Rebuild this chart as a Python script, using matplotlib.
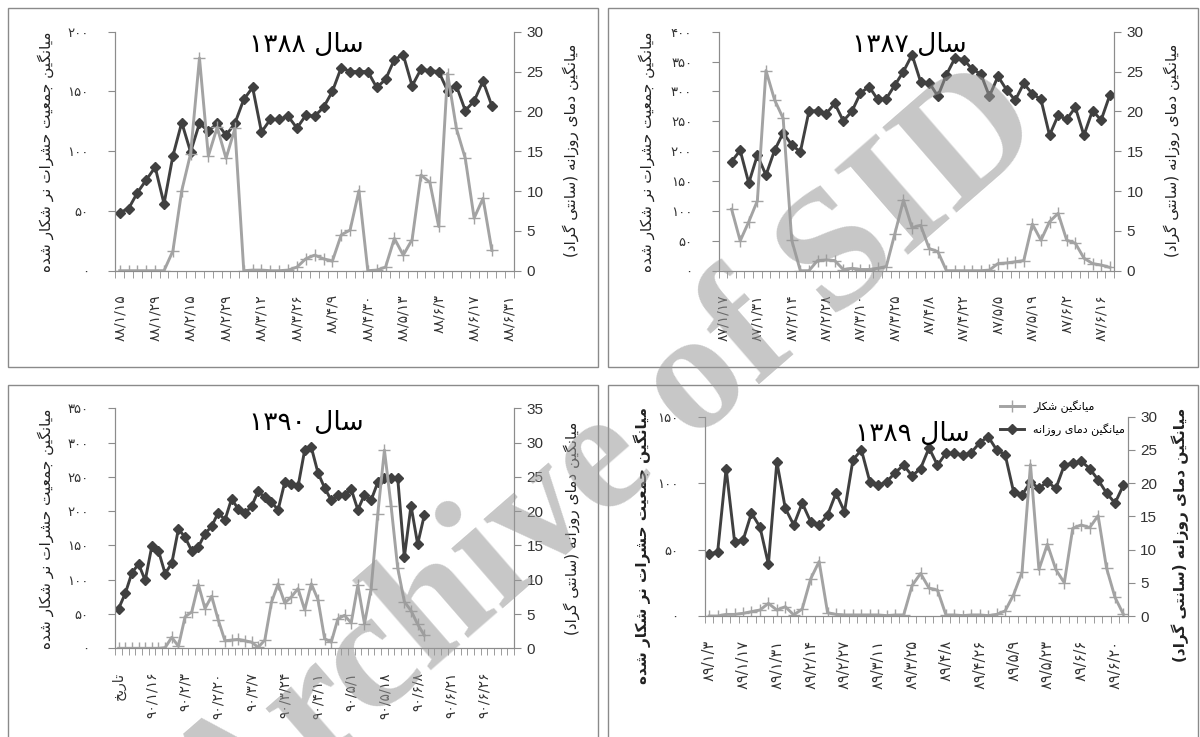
import re
import numpy as np
import matplotlib
matplotlib.use("Agg")
import matplotlib.pyplot as plt
from matplotlib.patches import Rectangle

plt.rcParams['font.family'] = ['DejaVu Sans']

# ---- data: 1387 (top right) ----
labels_87 = ['۸۷/۱/۱۷', '۸۷/۱/۳۱', '۸۷/۲/۱۴', '۸۷/۲/۲۸', '۸۷/۳/۱۰', '۸۷/۳/۲۵',
             '۸۷/۴/۸', '۸۷/۴/۲۲', '۸۷/۵/۵', '۸۷/۵/۱۹', '۸۷/۶/۲', '۸۷/۶/۱۶']
temp_87 = [13.7, 15.1, 11.0, 14.5, 12.0, 15.1, 17.3, 15.8, 14.9, 20.0,
           20.1, 19.7, 21.0, 18.8, 20.0, 22.3, 23.1, 21.5, 21.6, 23.3,
           25.0, 27.1, 23.7, 23.6, 21.9, 24.6, 26.7, 26.5, 25.3, 24.7,
           21.9, 24.4, 22.7, 21.4, 23.5, 22.2, 21.5, 17.0, 19.5, 19.0,
           20.5, 17.0, 20.1, 18.9, 22.0]
pest_87 = [103, 50, 82, 117, 335, 286, 255, 51, 0, 0,
           17, 18, 17, 2, 4, 2, 2, 4, 7, 62,
           118, 72, 76, 37, 32, 0, 0, 0, 0, 0,
           1, 12, 13, 15, 17, 78, 51, 82, 96, 51,
           46, 21, 12, 9.5, 5.6]

# ---- data: 1388 (top left) ----
labels_88 = ['۸۸/۱/۱۵', '۸۸/۱/۲۹', '۸۸/۲/۱۵', '۸۸/۲/۲۹', '۸۸/۳/۱۲', '۸۸/۳/۲۶',
             '۸۸/۴/۹', '۸۸/۴/۳۰', '۸۸/۵/۱۳', '۸۸/۶/۳', '۸۸/۶/۱۷', '۸۸/۶/۳۱']
temp_88 = [7.3, 7.8, 9.8, 11.4, 13.0, 8.4, 14.4, 18.6, 14.9, 18.5,
           17.5, 18.5, 17.0, 18.5, 21.5, 23.0, 17.4, 19.0, 19.0, 19.4,
           17.9, 19.5, 19.4, 20.5, 22.5, 25.5, 25.0, 25.0, 25.0, 23.0,
           24.0, 26.5, 27.1, 23.2, 25.3, 25.1, 25.0, 22.6, 23.2, 20.1,
           21.3, 23.8, 20.7]
pest_88 = [0, 0, 0, 0, 0, 0, 16.5, 67, 98, 178,
           96, 120, 94, 119, 0, 0.5, 0.5, 0, 0, 0.5,
           3, 10, 13, 10, 8, 30, 34, 67, 0, 0.5,
           3, 27, 13, 26, 80, 74, 37, 165, 119, 94,
           44, 60.5, 17]

# ---- data: 1389 (bottom right) ----
labels_89 = ['۸۹/۱/۳', '۸۹/۱/۱۷', '۸۹/۱/۳۱', '۸۹/۲/۱۴', '۸۹/۲/۲۷', '۸۹/۳/۱۱', '۸۹/۳/۲۵',
             '۸۹/۴/۸', '۸۹/۴/۲۶', '۸۹/۵/۹', '۸۹/۵/۲۳', '۸۹/۶/۶', '۸۹/۶/۲۰']
temp_89 = [9.3, 9.7, 22.2, 11.2, 11.4, 15.5, 13.4, 7.8, 23.2, 16.2,
           13.7, 17.0, 14.2, 13.7, 15.2, 18.5, 15.7, 23.5, 25.0, 20.2,
           19.7, 20.2, 21.6, 22.7, 21.1, 22.2, 25.3, 22.7, 24.5, 24.5,
           24.2, 24.6, 26.1, 27.0, 25.0, 24.3, 18.7, 18.2, 20.2, 19.2,
           20.2, 19.2, 22.7, 23.0, 23.3, 22.2, 20.5, 18.5, 17.0, 19.7]
pest_89 = [0, 0, 1.2, 1.2, 2, 3.3, 4.5, 9.5, 4.5, 7,
           0.8, 5.3, 28, 41, 2.5, 1.2, 0.8, 0.8, 0.8, 0.8,
           0.8, 0.3, 0.8, 0.8, 23, 32, 21, 19.5, 0.8, 0.8,
           0.3, 0.8, 0.8, 0.3, 1.2, 3.8, 16, 33, 114, 35,
           54, 35, 25, 66, 68.5, 66.5, 75.5, 36, 14, 1.2]

# ---- data: 1390 (bottom left) ----
labels_90 = ['تاریخ', '۹۰/۱/۱۶', '۹۰/۲/۳', '۹۰/۲/۲۰', '۹۰/۳/۷', '۹۰/۳/۲۴',
             '۹۰/۴/۱۱', '۹۰/۵/۱', '۹۰/۵/۱۸', '۹۰/۶/۸', '۹۰/۶/۲۱', '۹۰/۶/۲۶']
temp_90 = [5.8, 8.0, 11.0, 12.3, 9.9, 14.9, 14.2, 10.9, 12.4, 17.4,
           16.2, 14.2, 14.8, 16.7, 17.8, 19.8, 18.7, 21.8, 20.3, 19.7,
           20.7, 22.9, 22.0, 21.3, 20.2, 24.2, 23.9, 23.6, 28.9, 29.3,
           25.6, 23.4, 21.6, 22.3, 22.4, 23.2, 20.2, 22.4, 21.6, 24.2,
           24.8, 24.8, 24.8, 13.3, 20.8, 15.2, 19.4]
pest_90 = [0, 0, 0, 0, 0, 0, 0, 1, 16, 3,
           46, 53, 93, 58, 76, 41, 11, 12, 13, 11,
           9, 1.5, 12, 67, 94, 66, 75, 87, 56, 94,
           71, 14, 9, 43, 48, 37, 92, 36, 87, 196,
           289, 208, 117, 68, 55, 35, 19]

LEFT_LABEL = 'میانگین جمعیت حشرات نر شکار شده'
RIGHT_LABEL = 'میانگین دمای روزانه (سانتی گراد)'

GRAY = '#a3a3a3'
DARK = '#404040'
AXC = '#8c8c8c'
TXT = '#333333'

# simple Persian shaping (matplotlib does no Arabic shaping / bidi)
FORMS = {
    'ا': ('\uFE8D', '\uFE8E', None, None),
    'ت': ('\uFE95', '\uFE96', '\uFE97', '\uFE98'),
    'ج': ('\uFE9D', '\uFE9E', '\uFE9F', '\uFEA0'),
    'ح': ('\uFEA1', '\uFEA2', '\uFEA3', '\uFEA4'),
    'خ': ('\uFEA5', '\uFEA6', '\uFEA7', '\uFEA8'),
    'د': ('\uFEA9', '\uFEAA', None, None),
    'ر': ('\uFEAD', '\uFEAE', None, None),
    'ز': ('\uFEAF', '\uFEB0', None, None),
    'س': ('\uFEB1', '\uFEB2', '\uFEB3', '\uFEB4'),
    'ش': ('\uFEB5', '\uFEB6', '\uFEB7', '\uFEB8'),
    'ع': ('\uFEC9', '\uFECA', '\uFECB', '\uFECC'),
    'ل': ('\uFEDD', '\uFEDE', '\uFEDF', '\uFEE0'),
    'م': ('\uFEE1', '\uFEE2', '\uFEE3', '\uFEE4'),
    'ن': ('\uFEE5', '\uFEE6', '\uFEE7', '\uFEE8'),
    'ه': ('\uFEE9', '\uFEEA', '\uFEEB', '\uFEEC'),
    'و': ('\uFEED', '\uFEEE', None, None),
    'ک': ('\uFB8E', '\uFB8F', '\uFB90', '\uFB91'),
    'گ': ('\uFB92', '\uFB93', '\uFB94', '\uFB95'),
    'ی': ('\uFBFC', '\uFBFD', '\uFBFE', '\uFBFF'),
}


def shape(text):
    out = []
    for i, ch in enumerate(text):
        if ch not in FORMS:
            out.append(ch)
            continue
        prev = text[i - 1] if i > 0 else ''
        nxt = text[i + 1] if i + 1 < len(text) else ''
        iso, fin, ini, med = FORMS[ch]
        jp = prev in FORMS and FORMS[prev][2] is not None
        jn = nxt in FORMS and ini is not None
        if jp and jn:
            out.append(med)
        elif jp:
            out.append(fin)
        elif jn:
            out.append(ini)
        else:
            out.append(iso)
    return ''.join(out)


def rtl(text):
    s = shape(text)[::-1].translate(str.maketrans('()', ')('))
    return re.sub('[۰-۹0-9]+', lambda m: m.group(0)[::-1], s)


def fa(n):
    return str(int(n)).translate(str.maketrans('0123456789', '۰۱۲۳۴۵۶۷۸۹'))


fig = plt.figure(figsize=(12, 7.37), dpi=100)

# panel frames
for x0, y0, y1 in [(8, 8, 367), (608, 8, 367), (8, 385, 745), (608, 385, 745)]:
    fig.add_artist(Rectangle((x0 / 1200, 1 - y1 / 737), 590 / 1200, (y1 - y0) / 737,
                             transform=fig.transFigure, fill=False, ec='#8a8a8a', lw=1))


def panel(rect, labels, ncat, start, step, temp, pest, lmax, rmax, fs=10):
    ax = fig.add_axes(rect)
    ax2 = ax.twinx()
    x = np.arange(len(temp)) + start
    l2, = ax2.plot(x, temp, color=DARK, lw=2.1, marker='D', ms=5.5)
    l1, = ax.plot(x, pest, color=GRAY, lw=2.1, marker='+', ms=8, mew=1)
    ax.set_zorder(ax2.get_zorder() + 1)
    ax.patch.set_visible(False)

    ax.set_xlim(-0.5, ncat - 0.5)
    ax.set_ylim(0, lmax)
    ax2.set_ylim(0, rmax)
    lt = np.arange(0, lmax + 1, 50)
    ax.set_yticks(lt)
    ax.set_yticklabels([fa(v) for v in lt], fontsize=9.5, color=TXT)
    rt = np.arange(0, rmax + 1, 5)
    ax2.set_yticks(rt)
    ax2.set_yticklabels([str(v) for v in rt], fontsize=11, color=TXT,
                        family='Liberation Sans')

    pos = np.arange(len(labels)) * step
    ax.set_xticks(pos)
    ax.set_xticklabels([rtl(t) if t[0] not in '۰۱۲۳۴۵۶۷۸۹' else t for t in labels],
                       rotation=90, fontsize=fs, color=TXT)
    ax.set_xticks(np.arange(-0.5, ncat), minor=True)
    ax.tick_params(axis='x', which='major', length=0, pad=17)
    ax.tick_params(axis='x', which='minor', length=5, color=AXC, direction='out')
    ax.tick_params(axis='y', length=5, color=AXC, pad=14)
    ax2.tick_params(axis='y', length=5, color=AXC, pad=4)

    for a in (ax, ax2):
        a.spines['top'].set_visible(False)
        for s in ('left', 'right', 'bottom'):
            a.spines[s].set_color(AXC)
    return ax, l1, l2


def ylabels(xl, xr, yl, yr, bold=False):
    w = 'bold' if bold else 'normal'
    fig.text(xl / 1200, 1 - yl / 737, rtl(LEFT_LABEL), rotation=90, ha='center', va='center',
             fontsize=11, color='#222222', weight=w)
    fig.text(xr / 1200, 1 - yr / 737, rtl(RIGHT_LABEL), rotation=90, ha='center', va='center',
             fontsize=11, color='#222222', weight=w)


def title(xc, yc, text):
    fig.text(xc / 1200, 1 - yc / 737, rtl(text), ha='center', va='center', fontsize=19, color='black')


# top left: 1388
panel([115.3 / 1200, 1 - 270.7 / 737, 398.7 / 1200, 239 / 737],
      labels_88, 45, 0, 4, temp_88, pest_88, 200, 30)
ylabels(46, 571, 152, 150)
title(306, 45, 'سال ۱۳۸۸')

# top right: 1387
panel([718.7 / 1200, 1 - 270.7 / 737, 395.3 / 1200, 239 / 737],
      labels_87, 46, 1, 4, temp_87, pest_87, 400, 30)
ylabels(647, 1172, 152, 150)
title(909, 45, 'سال ۱۳۸۷')

# bottom left: 1390
panel([115.3 / 1200, 1 - 648.3 / 737, 398.7 / 1200, 240 / 737],
      labels_90, 60, 0, 5, temp_90, pest_90, 350, 35)
ylabels(46, 572, 529, 528)
title(306, 423, 'سال ۱۳۹۰')

# bottom right: 1389
ax, l1, l2 = panel([705 / 1200, 1 - 616 / 737, 422.7 / 1200, 199.3 / 737],
                   labels_89, 50, 0, 4, temp_89, pest_89, 150, 30, fs=10.5)
ylabels(642, 1180, 545, 535, bold=True)
title(912, 434, 'سال ۱۳۸۹')
fig.legend([l1, l2], [rtl('میانگین شکار'), rtl('میانگین دمای روزانه')],
           loc='upper left', bbox_to_anchor=(990 / 1200, 1 - 390 / 737),
           frameon=False, fontsize=8, handlelength=2.2, labelspacing=0.9)

# watermark of the source site
fig.text(608 / 1200, 1 - 462 / 737, 'Archive of SID', fontsize=124, family='Liberation Serif',
         weight='bold', color='#999999', alpha=0.55, rotation=41,
         ha='center', va='center', rotation_mode='anchor', zorder=10)

fig.savefig('out.png', dpi=100)
